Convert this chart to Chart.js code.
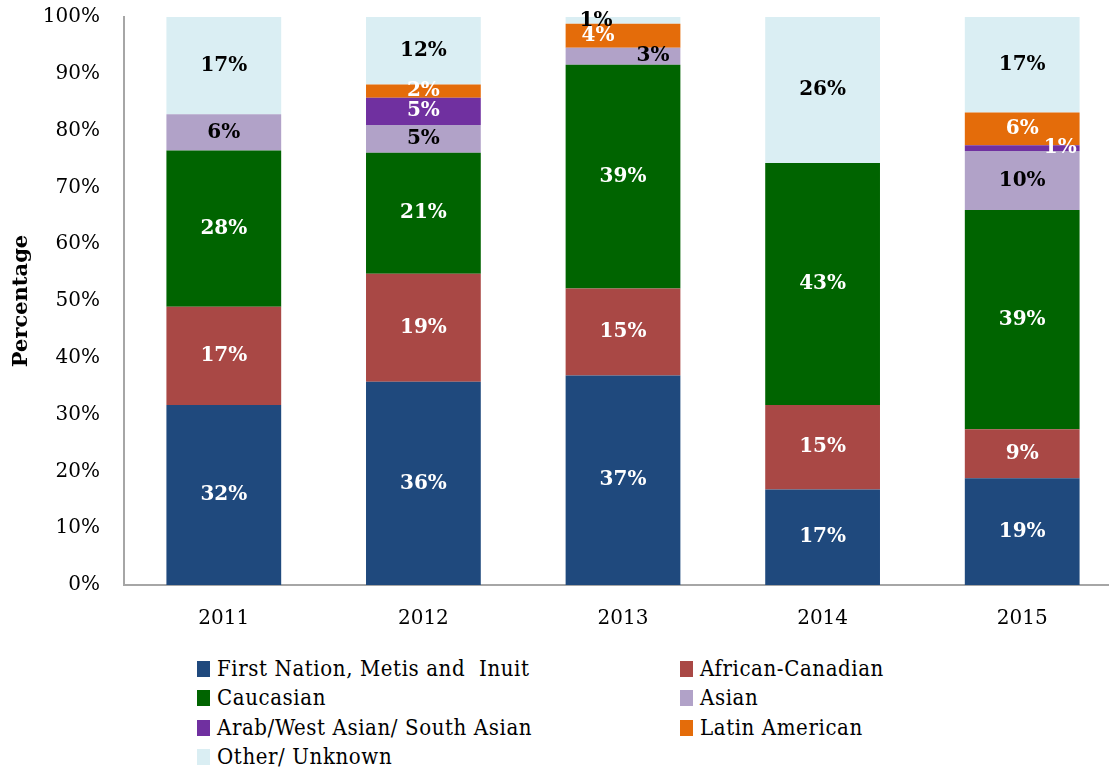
<!DOCTYPE html>
<html>
<head>
<meta charset="utf-8">
<script src="https://cdn.jsdelivr.net/npm/chart.js@4.4.0/dist/chart.umd.min.js"></script>
<style>
  html, body { margin: 0; padding: 0; background: #fff; overflow: hidden; }
  #wrap { position: absolute; left: 0; top: 0; width: 1122px; height: 653px; }
  #legend { position: absolute; left: 197px; top: 656px; width: 700px; letter-spacing: 0.6px;
            font-family: "DejaVu Serif Condensed", "DejaVu Serif", serif; font-size: 22px; color: #000; }
  .item { position: absolute; white-space: pre; line-height: 26px; }
  .box { display: inline-block; width: 13px; height: 16px; margin-right: 7px; vertical-align: -1px; }
</style>
</head>
<body>
<div id="wrap"><canvas id="ethnicityChart"></canvas></div>
<div id="legend"></div>
<script>
const years = ['2011', '2012', '2013', '2014', '2015'];

// percentages (bottom to top)
const firstNation   = [31.7, 35.8, 36.9, 16.8, 18.8];
const africanCdn    = [17.3, 19.0, 15.3, 14.9, 8.6];
const caucasian     = [27.5, 21.3, 39.4, 42.6, 38.6];
const asian         = [6.4, 4.9, 3.0, 0, 10.4];
const arabSouthAsia = [0, 4.8, 0, 0, 1.0];
const latinAmerican = [0, 2.3, 4.2, 0, 5.8];
const otherUnknown  = [17.1, 11.9, 1.2, 25.7, 16.8];

const yTicks = [0, 10, 20, 30, 40, 50, 60, 70, 80, 90, 100];

const series = [
  { label: 'First Nation, Metis and  Inuit', data: firstNation, color: '#1f497d', text: '#fff' },
  { label: 'African-Canadian', data: africanCdn, color: '#a94845', text: '#fff' },
  { label: 'Caucasian', data: caucasian, color: '#006400', text: '#fff' },
  { label: 'Asian', data: asian, color: '#b1a2c8', text: '#000' },
  { label: 'Arab/West Asian/ South Asian', data: arabSouthAsia, color: '#7030a0', text: '#fff' },
  { label: 'Latin American', data: latinAmerican, color: '#e46c0a', text: '#fff' },
  { label: 'Other/ Unknown', data: otherUnknown, color: '#daeef3', text: '#000' }
];

// a few thin slices have their label nudged sideways, like the original
const labelNudge = { '3-2': 30, '5-2': -25, '6-2': -27, '4-4': 38 };

const segmentLabels = {
  id: 'segmentLabels',
  afterDatasetsDraw(chart) {
    const ctx = chart.ctx;
    ctx.save();
    ctx.font = 'bold 20px "DejaVu Serif", serif';
    ctx.textAlign = 'center';
    ctx.textBaseline = 'middle';
    chart.data.datasets.forEach((ds, i) => {
      const meta = chart.getDatasetMeta(i);
      meta.data.forEach((bar, j) => {
        const v = ds.data[j];
        if (!v) return;
        const dx = labelNudge[i + '-' + j] || 0;
        let y = (bar.y + bar.base) / 2;
        if (i === 6 && j === 2) y = bar.y + 4;
        ctx.fillStyle = ds.labelColor;
        ctx.fillText(Math.round(v) + '%', bar.x + dx, y);
      });
    });
    ctx.restore();
  }
};

const chart = new Chart(document.getElementById('ethnicityChart'), {
  type: 'bar',
  data: {
    labels: years,
    datasets: series.map(s => ({
      label: s.label,
      data: s.data,
      backgroundColor: s.color,
      labelColor: s.text,
      borderWidth: 0,
      categoryPercentage: 1,
      barPercentage: 0.575
    }))
  },
  options: {
    responsive: true,
    maintainAspectRatio: false,
    animation: false,
    layout: { padding: { top: 0, left: 9, right: 0, bottom: 0 } },
    plugins: {
      legend: { display: false },
      tooltip: { enabled: false }
    },
    scales: {
      x: {
        stacked: true,
        grid: { display: false, drawTicks: false },
        border: { color: '#a6a6a6', width: 2 },
        ticks: { color: '#000', padding: 22, font: { family: '"DejaVu Serif", serif', size: 20 } }
      },
      y: {
        stacked: true,
        min: 0,
        max: 100,
        afterBuildTicks: (axis) => { axis.ticks = yTicks.map(v => ({ value: v })); },
        afterFit: (axis) => {
          axis.width = 115;
          axis.paddingTop = 17;
        },
        grid: { display: false, drawTicks: false },
        border: { color: '#a6a6a6', width: 2 },
        title: {
          display: true,
          text: 'Percentage',
          color: '#000',
          padding: { top: 0, bottom: 8 },
          font: { family: '"DejaVu Serif", serif', size: 21, weight: 'bold' }
        },
        ticks: {
          color: '#000',
          padding: 24,
          font: { family: '"DejaVu Serif", serif', size: 20 },
          callback: (v) => v + '%'
        }
      }
    }
  },
  plugins: [segmentLabels]
});

// two-column legend, built from the chart's datasets
const legendEl = document.getElementById('legend');
chart.data.datasets.forEach((ds, i) => {
  const el = document.createElement('div');
  el.className = 'item';
  el.style.left = (i % 2 ? 483 : 0) + 'px';
  el.style.top = (Math.floor(i / 2) * 29.3) + 'px';
  el.innerHTML = '<span class="box" style="background:' + ds.backgroundColor + '"></span>';
  el.appendChild(document.createTextNode(ds.label));
  legendEl.appendChild(el);
});
</script>
</body>
</html>
